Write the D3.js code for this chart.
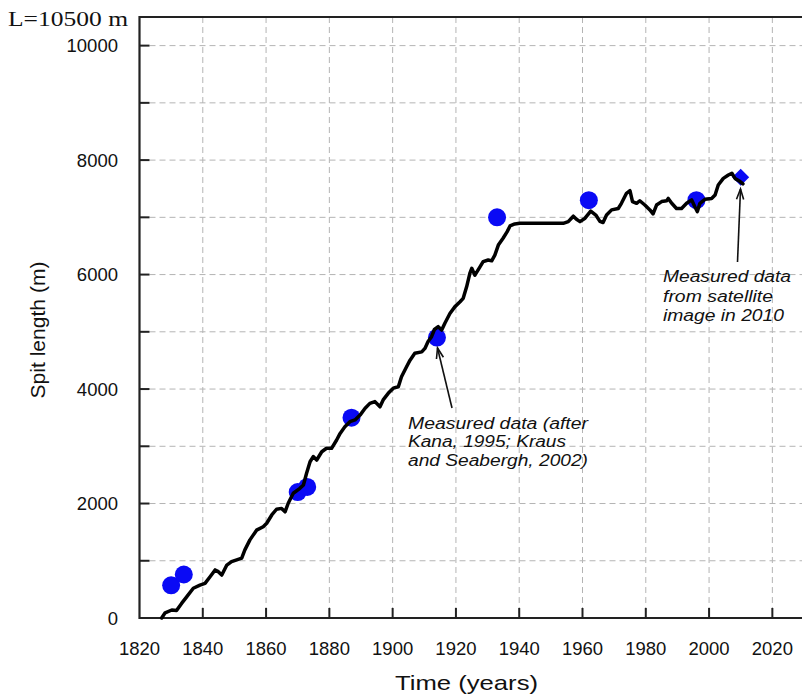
<!DOCTYPE html>
<html>
<head>
<meta charset="utf-8">
<script src="https://cdn.jsdelivr.net/npm/d3@7"></script>
<style>
  html, body { margin: 0; padding: 0; background: #fff; }
  svg { display: block; }
  text { font-family: "Liberation Sans", Arial, sans-serif; fill: #111; }
</style>
</head>
<body>
<svg id="chart" width="802" height="699"></svg>
<script>
// ---- data ----
const simYears = [1827.0,1828.1,1830.2,1831.7,1833.3,1834.9,1837.0,1839.1,1840.7,1842.3,1843.9,1844.9,1846.0,1847.6,1849.1,1851.2,1852.3,1853.3,1854.9,1857.0,1859.1,1860.2,1861.8,1863.3,1864.9,1866.0,1867.0,1868.6,1870.7,1871.8,1872.8,1873.9,1874.9,1876.0,1877.6,1879.1,1880.7,1882.3,1883.4,1884.9,1886.5,1888.1,1889.7,1891.3,1892.8,1894.4,1896.0,1897.0,1898.6,1900.2,1901.8,1902.8,1904.4,1905.5,1907.0,1909.2,1910.2,1911.2,1912.3,1913.2,1914.4,1915.5,1916.5,1918.1,1919.7,1921.3,1922.3,1923.4,1924.4,1925.0,1926.0,1927.6,1928.6,1930.2,1931.3,1932.3,1933.4,1934.9,1936.2,1937.1,1938.6,1940.2,1953.9,1955.5,1957.1,1958.1,1959.2,1960.8,1962.6,1964.2,1965.5,1966.5,1967.6,1969.2,1971.3,1972.3,1973.9,1975.0,1975.8,1977.1,1978.1,1979.7,1981.3,1982.3,1983.4,1985.0,1986.6,1987.1,1988.2,1989.7,1991.3,1992.9,1994.5,1995.5,1996.3,1997.1,1998.7,2000.8,2001.9,2002.9,2004.5,2006.1,2007.2,2008.2,2009.8,2010.7];
const simLength = [0,90,140,130,255,370,520,575,605,720,840,810,750,925,985,1025,1045,1190,1365,1535,1595,1655,1800,1900,1915,1855,2005,2180,2265,2325,2530,2730,2820,2760,2905,2965,2965,3110,3225,3340,3430,3460,3545,3665,3750,3780,3690,3810,3925,4015,4040,4215,4390,4505,4625,4650,4710,4830,4915,5040,5090,5030,5150,5320,5440,5525,5585,5790,6020,6110,5990,6135,6225,6255,6240,6340,6515,6635,6750,6850,6885,6895,6895,6925,7020,6965,6925,6985,7110,7040,6930,6910,7040,7130,7155,7245,7420,7465,7275,7245,7290,7215,7130,7060,7215,7275,7290,7330,7245,7155,7155,7245,7305,7185,7100,7245,7315,7330,7390,7565,7680,7740,7770,7680,7625,7585];

const measYears  = [1830, 1834, 1870, 1873, 1887, 1914, 1933, 1962, 1996];
const measLength = [570, 760, 2200, 2290, 3500, 4900, 7000, 7300, 7300];

const satYears  = [2010];
const satLength = [7700];

const xTickLabels = [1820,1840,1860,1880,1900,1920,1940,1960,1980,2000,2020];
const yTickLabels = [0,2000,4000,6000,8000,10000];
const yGridValues = [1000,2000,3000,4000,5000,6000,7000,8000,9000,10000];

// ---- scales ----
const svg = d3.select("#chart");
const x = d3.scaleLinear().domain([1820, 2030]).range([139.5, 804]);
const y = d3.scaleLinear().domain([0, 10500]).range([618, 17]);

// gridlines
const grid = svg.append("g").attr("stroke", "#b4b4b4").attr("stroke-width", 1).attr("stroke-dasharray", "6,4");
grid.selectAll("line.h").data(yGridValues).join("line")
  .attr("x1", x(1820)).attr("x2", 802).attr("y1", d => y(d)).attr("y2", d => y(d));
grid.selectAll("line.v").data(xTickLabels.slice(1)).join("line")
  .attr("x1", d => x(d)).attr("x2", d => x(d)).attr("y1", y(10500)).attr("y2", y(0));

// ticks inward
const ticks = svg.append("g").attr("stroke", "#222").attr("stroke-width", 2);
ticks.selectAll("line.yt").data(yGridValues).join("line")
  .attr("x1", x(1820)).attr("x2", x(1820) + 10).attr("y1", d => y(d)).attr("y2", d => y(d));
ticks.selectAll("line.xt").data(xTickLabels.slice(1)).join("line")
  .attr("x1", d => x(d)).attr("x2", d => x(d)).attr("y1", y(0)).attr("y2", y(0) - 10);

// frame (left, bottom, top)
svg.append("path")
  .attr("d", `M802,${y(10500)} H${x(1820)} V${y(0)} H802`)
  .attr("fill", "none").attr("stroke", "#222").attr("stroke-width", 2.2);

// tick labels
svg.append("g").selectAll("text").data(yTickLabels).join("text")
  .attr("x", 118).attr("y", d => y(d)).attr("dy", "0.36em")
  .attr("text-anchor", "end").attr("font-size", 18.5).text(d => d);
svg.append("g").selectAll("text").data(xTickLabels).join("text")
  .attr("x", d => x(d)).attr("y", 655)
  .attr("text-anchor", "middle").attr("font-size", 18.5).text(d => d);

// L label
svg.append("text").attr("x", 128).attr("y", 26).attr("text-anchor", "end")
  .style("font-family", "'Liberation Serif', 'Times New Roman', serif")
  .attr("font-size", 21).attr("textLength", 120).attr("lengthAdjust", "spacingAndGlyphs")
  .text("L=10500 m");

// axis titles
svg.append("text").attr("transform", "translate(38,330) rotate(-90)")
  .attr("text-anchor", "middle").attr("dy", "0.35em").attr("font-size", 21)
  .attr("textLength", 137).attr("lengthAdjust", "spacingAndGlyphs")
  .text("Spit length (m)");
svg.append("text").attr("x", 466.5).attr("y", 690)
  .attr("text-anchor", "middle").attr("font-size", 21)
  .attr("textLength", 143).attr("lengthAdjust", "spacingAndGlyphs")
  .text("Time (years)");

// measured points
svg.append("g").selectAll("circle").data(measYears.map((d, i) => [d, measLength[i]])).join("circle")
  .attr("cx", d => x(d[0])).attr("cy", d => y(d[1])).attr("r", 9).attr("fill", "#0a0af5");
svg.append("g").selectAll("path").data(satYears.map((d, i) => [d, satLength[i]])).join("path")
  .attr("transform", d => `translate(${x(d[0])},${y(d[1])})`)
  .attr("d", "M0,-8.5 L8.5,0 L0,8.5 L-8.5,0 Z").attr("fill", "#0a0af5");

// simulated line
const line = d3.line().x(d => x(d[0])).y(d => y(d[1]));
svg.append("path").datum(simYears.map((d, i) => [d, simLength[i]]))
  .attr("d", line).attr("fill", "none").attr("stroke", "#000")
  .attr("stroke-width", 3.5).attr("stroke-linejoin", "round").attr("stroke-linecap", "round");

// annotations
function arrow(x1, y1, x2, y2) {
  const g = svg.append("g").attr("stroke", "#111").attr("stroke-width", 1.6).attr("fill", "none");
  g.append("line").attr("x1", x1).attr("y1", y1).attr("x2", x2).attr("y2", y2);
  const a = Math.atan2(y2 - y1, x2 - x1), L = 11, w = 0.33;
  g.append("path").attr("d",
    `M${x2 - L * Math.cos(a - w)},${y2 - L * Math.sin(a - w)} L${x2},${y2} L${x2 - L * Math.cos(a + w)},${y2 - L * Math.sin(a + w)}`);
}
arrow(452, 408, 437.5, 348);
arrow(737.5, 262, 740.5, 189);

function block(x0, ys, lines, widths) {
  lines.forEach((t, i) => {
    svg.append("text").attr("x", x0).attr("y", ys[i]).attr("font-size", 16)
      .attr("font-style", "italic").attr("textLength", widths[i]).attr("lengthAdjust", "spacingAndGlyphs")
      .text(t);
  });
}
block(408, [428.5, 447, 465.5], ["Measured data (after", "Kana, 1995; Kraus", "and Seabergh, 2002)"], [180, 158, 180]);
block(663, [282, 301.5, 321], ["Measured data", "from satellite", "image in 2010"], [128, 110, 121]);
</script>
</body>
</html>
